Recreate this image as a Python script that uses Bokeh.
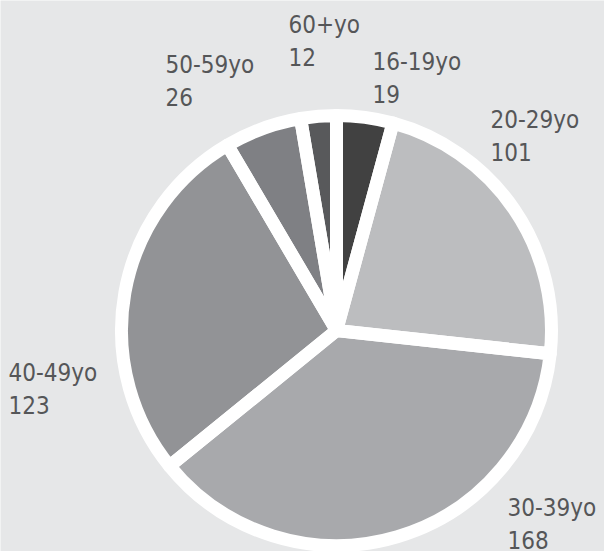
from math import pi
from bokeh.plotting import figure
from bokeh.models import Range1d, ColumnDataSource
from bokeh.core.properties import value
from bokeh.embed import file_html
from bokeh.resources import INLINE

# ---- data ----
categories = ["16-19yo", "20-29yo", "30-39yo", "40-49yo", "50-59yo", "60+yo"]
counts = [19, 101, 168, 123, 26, 12]
colors = ["#414141", "#bcbdbf", "#a8a9ac", "#929396", "#7f8084", "#58595b"]

# ---- layout (pixels) ----
W, H = 604, 551
CX, CY = 336, 551 - 330
R = 215
# label first-line anchor offsets from the pie centre (left-aligned text)
label_dx = [36, 154, 171, -328, -171, -48]
label_dy = [269, 211, -177, -42, 266, 306]
LINE_GAP = 32

total = float(sum(counts))
starts, ends = [], []
cum = 0.0
for c in counts:
    a0 = pi / 2 - 2 * pi * (cum + c) / total
    a1 = pi / 2 - 2 * pi * cum / total
    starts.append(a0)
    ends.append(a1)
    cum += c

src = ColumnDataSource(dict(
    cat=categories, val=[str(v) for v in counts], color=colors,
    start=starts, end=ends,
    x=[CX] * len(counts), y=[CY] * len(counts),
    lx=[CX + d for d in label_dx],
    ly1=[CY + d for d in label_dy],
    ly2=[CY + d - LINE_GAP for d in label_dy],
))

p = figure(width=W, height=H, x_range=Range1d(0, W), y_range=Range1d(0, H),
           output_backend="svg", toolbar_location=None, min_border=0,
           background_fill_color="#e6e7e8", border_fill_color="#e6e7e8")
p.axis.visible = False
p.grid.visible = False
p.outline_line_color = None

p.wedge(x="x", y="y", radius=R, start_angle="start", end_angle="end",
        fill_color="color", line_color=None, source=src)
p.wedge(x="x", y="y", radius=R, start_angle="start", end_angle="end",
        fill_color=None, line_color="white", line_width=13, line_join="round",
        source=src)

for col in ("ly1", "ly2"):
    p.text(x="lx", y=col, text="cat" if col == "ly1" else "val", source=src,
           text_font=value("DejaVu Sans Condensed, Open Sans"), text_font_size="24px",
           text_color="#555658", text_align="left", text_baseline="alphabetic")

open("out.html", "w").write(file_html(p, INLINE))
